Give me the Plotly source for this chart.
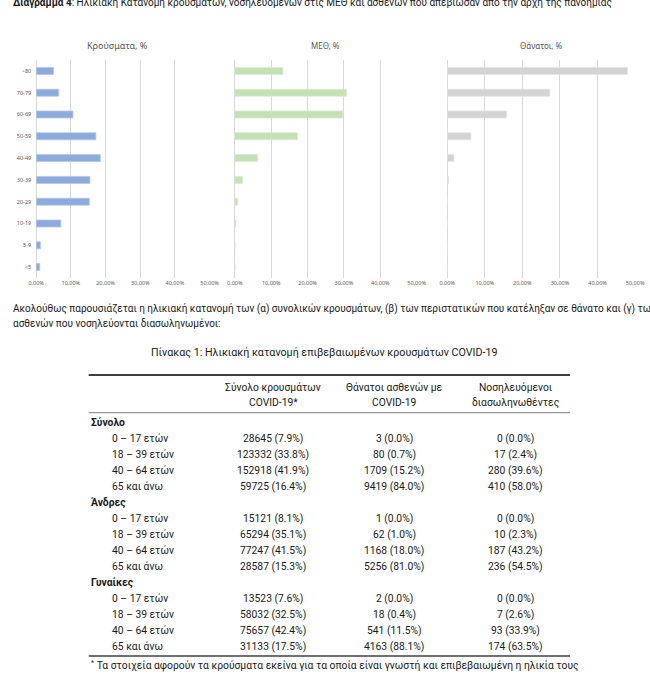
import plotly.graph_objects as go

W, H = 650, 682

# ---------------- data: bar charts ----------------
age_groups = ["<5", "5-9", "10-19", "20-29", "30-39", "40-49", "50-59", "60-69", "70-79", ">80"]
cases_pct = [1.0, 1.2, 7.1, 15.3, 15.5, 18.5, 17.2, 10.6, 6.5, 5.0]
icu_pct = [0.05, 0.05, 0.3, 0.7, 2.1, 6.3, 17.2, 29.7, 30.7, 13.2]
deaths_pct = [0.0, 0.0, 0.05, 0.1, 0.4, 1.8, 6.3, 15.8, 27.3, 48.0]
x_ticks = [0, 10, 20, 30, 40, 50]
x_tick_labels = ["0,00%", "10,00%", "20,00%", "30,00%", "40,00%", "50,00%"]
chart_titles = ["Κρούσματα, %", "ΜΕΘ, %", "Θάνατοι, %"]

# ---------------- data: table ----------------
groups = ["Σύνολο", "Άνδρες", "Γυναίκες"]
ages = ["0 – 17 ετών", "18 – 39 ετών", "40 – 64 ετών", "65 και άνω"]
col_headers_l1 = ["Σύνολο κρουσμάτων", "Θάνατοι ασθενών με", "Νοσηλευόμενοι"]
col_headers_l2 = ["COVID-19*", "COVID-19", "διασωληνωθέντες"]
cases_n = [[28645, 123332, 152918, 59725], [15121, 65294, 77247, 28587], [13523, 58032, 75657, 31133]]
cases_p = [[7.9, 33.8, 41.9, 16.4], [8.1, 35.1, 41.5, 15.3], [7.6, 32.5, 42.4, 17.5]]
deaths_n = [[3, 80, 1709, 9419], [1, 62, 1168, 5256], [2, 18, 541, 4163]]
deaths_p = [[0.0, 0.7, 15.2, 84.0], [0.0, 1.0, 18.0, 81.0], [0.0, 0.4, 11.5, 88.1]]
intub_n = [[0, 17, 280, 410], [0, 10, 187, 236], [0, 7, 93, 174]]
intub_p = [[0.0, 2.4, 39.6, 58.0], [0.0, 2.3, 43.2, 54.5], [0.0, 2.6, 33.9, 63.5]]

header_text = ("<b>Διάγραμμα 4</b>: Ηλικιακή Κατανομή κρουσμάτων, νοσηλευόμενων στις ΜΕΘ "
               "και ασθενών που απεβίωσαν από την αρχή της πανδημίας")
para_lines = ["Ακολούθως παρουσιάζεται η ηλικιακή κατανομή των (α) συνολικών κρουσμάτων, "
              "(β) των περιστατικών που κατέληξαν σε θάνατο και (γ) των",
              "ασθενών που νοσηλεύονται διασωληνωμένοι:"]
table_title = "Πίνακας 1: Ηλικιακή κατανομή επιβεβαιωμένων κρουσμάτων COVID-19"
footnote = "<sup>*</sup> Τα στοιχεία αφορούν τα κρούσματα εκείνα για τα οποία είναι γνωστή και επιβεβαιωμένη η ηλικία τους"

# ---------------- styles ----------------
DOC_FONT = "Roboto"
CH_FONT = "Noto Sans"
TXT = "#1a1a1a"
bar_colors = ["#8eaadb", "#c5e0b4", "#d3d3d3"]
bar_lines = ["#b4c7e7", "#d9ead3", "#e3e3e3"]
grid_col = "#d9d9d9"
tick_col = "#595959"

def px_x(p):
    return p / W

def px_y(p):
    return 1 - p / H

fig = go.Figure()

x_domains = [(29, 207.3), (233.3, 420.3), (451.7, 645)]
y_dom = [px_y(278), px_y(60)]
series = [cases_pct, icu_pct, deaths_pct]
title_x = [113, 327, 548]
title_size = [9, 8, 8]

for i in range(3):
    ax = "" if i == 0 else str(i + 1)
    fig.add_trace(go.Bar(
        x=series[i], y=age_groups, orientation="h",
        marker=dict(color=bar_colors[i], line=dict(color=bar_lines[i], width=0.8)),
        xaxis="x" + ax, yaxis="y" + ax, showlegend=False, hoverinfo="skip"))
    fig.layout["xaxis" + ax] = dict(
        domain=[px_x(x_domains[i][0]), px_x(x_domains[i][1])], range=[0, 50],
        tickvals=x_ticks, ticktext=x_tick_labels,
        showgrid=True, gridcolor=grid_col, gridwidth=1,
        zeroline=True, zerolinecolor=grid_col, zerolinewidth=1,
        tickfont=dict(size=5.5, color=tick_col, family=CH_FONT),
        anchor="y" + ax, fixedrange=True)
    fig.layout["yaxis" + ax] = dict(
        domain=y_dom, type="category", categoryorder="array", categoryarray=age_groups,
        showticklabels=(i == 0), showgrid=False, zeroline=False, showline=False,
        ticklabelstandoff=4,
        tickfont=dict(size=5.5, color=tick_col, family=CH_FONT),
        anchor="x" + ax, fixedrange=True)
    fig.add_annotation(text=chart_titles[i], x=px_x(title_x[i]), y=px_y(46),
                       xref="paper", yref="paper", showarrow=False,
                       xanchor="center", yanchor="middle",
                       font=dict(size=title_size[i], color=tick_col, family=CH_FONT))

fig.update_layout(bargap=0.68)

# ---------------- text blocks ----------------
fig.add_annotation(text=header_text, x=px_x(3), y=px_y(3), xref="paper", yref="paper",
                   xanchor="left", yanchor="middle", showarrow=False,
                   font=dict(size=10, color=TXT, family=DOC_FONT))
for k, line in enumerate(para_lines):
    fig.add_annotation(text=line, x=px_x(3), y=px_y(309 + 14 * k), xref="paper", yref="paper",
                       xanchor="left", yanchor="middle", showarrow=False,
                       font=dict(size=10, color=TXT, family=DOC_FONT))
fig.add_annotation(text=table_title, x=px_x(325), y=px_y(352), xref="paper", yref="paper",
                   xanchor="center", yanchor="middle", showarrow=False,
                   font=dict(size=10.7, color=TXT, family=DOC_FONT))

# ---------------- table ----------------
COL1_PX, COL_STEP = 272.7, 124.65
ROW0_PX, ROW_STEP = 422.5, 16.0
T_TOP, T_BOT = 370, 670

def col_u(p):
    return 1 + (p - COL1_PX) / COL_STEP

def row_u(p):
    return (p - ROW0_PX) / ROW_STEP

fig.update_layout(
    xaxis4=dict(domain=[0, 1], range=[col_u(0), col_u(W)], visible=False, fixedrange=True, anchor="y4"),
    yaxis4=dict(domain=[px_y(T_BOT), px_y(T_TOP)], range=[row_u(T_BOT), row_u(T_TOP)],
                visible=False, fixedrange=True, anchor="x4"),
)

cell_font = dict(size=10.3, color=TXT, family=DOC_FONT)
x_group, x_age, x_right = col_u(83), col_u(105), col_u(578)

for c in range(3):
    for ypx, h in [(387, col_headers_l1[c]), (402, col_headers_l2[c])]:
        fig.add_annotation(text=h, x=c + 1, y=row_u(ypx), xref="x4", yref="y4",
                           xanchor="center", yanchor="middle", showarrow=False, font=cell_font)

r = 0
for g, gname in enumerate(groups):
    fig.add_annotation(text="<b>" + gname + "</b>", x=x_group, y=r, xref="x4", yref="y4",
                       xanchor="left", yanchor="middle", showarrow=False, font=cell_font)
    r += 1
    for a, age in enumerate(ages):
        fig.add_annotation(text=age, x=x_age, y=r, xref="x4", yref="y4",
                           xanchor="left", yanchor="middle", showarrow=False, font=cell_font)
        cells = [f"{cases_n[g][a]} ({cases_p[g][a]:.1f}%)",
                 f"{deaths_n[g][a]} ({deaths_p[g][a]:.1f}%)",
                 f"{intub_n[g][a]} ({intub_p[g][a]:.1f}%)"]
        for c, t in enumerate(cells):
            fig.add_annotation(text=t, x=c + 1, y=r, xref="x4", yref="y4",
                               xanchor="center", yanchor="middle", showarrow=False, font=cell_font)
        r += 1

fig.add_annotation(text=footnote, x=x_group, y=row_u(665), xref="x4", yref="y4",
                   xanchor="left", yanchor="middle", showarrow=False, font=cell_font)

for ypx, wdt, colr in [(375, 2, "#404040"), (412.7, 1, "#7f7f7f"), (656, 1.6, "#404040")]:
    fig.add_shape(type="line", x0=x_group, x1=x_right, y0=row_u(ypx), y1=row_u(ypx),
                  xref="x4", yref="y4", line=dict(color=colr, width=wdt))

fig.update_layout(width=W, height=H, margin=dict(l=0, r=0, t=0, b=0),
                  paper_bgcolor="white", plot_bgcolor="white", separators=",.",
                  showlegend=False)

fig.write_html("out.html", config={"displayModeBar": False},
               post_script="document.body.style.margin='0px';")
